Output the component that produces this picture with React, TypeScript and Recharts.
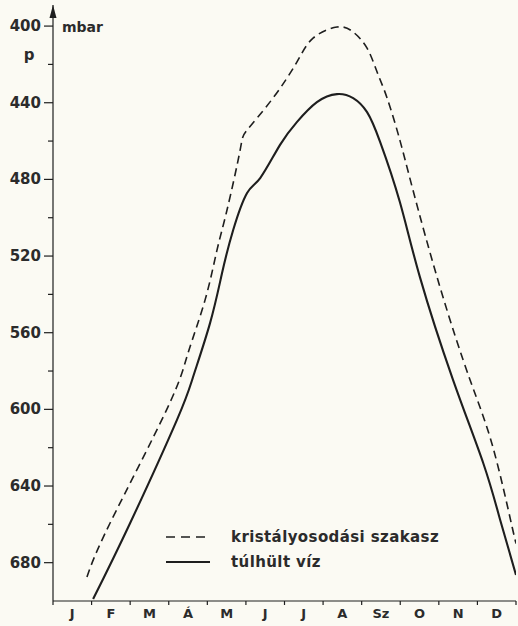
import React from "react";
import { LineChart, Line, XAxis, YAxis, Legend, ReferenceDot } from "recharts";

const MONTHS = ["J", "F", "M", "Á", "M", "J", "J", "A", "Sz", "O", "N", "D"];
const MONTH_EDGES = [0, 1, 2, 3, 4, 5, 6, 7, 8, 9, 10, 11, 12];
const P_TICKS = [400, 420, 440, 460, 480, 500, 520, 540, 560, 580, 600, 620, 640, 660, 680];
const P_LABELS = [400, 440, 480, 520, 560, 600, 640, 680];

// kristályosodási szakasz (month position, mbar)
const CRYSTAL_M = [0.88, 1.48, 2.95, 3.5, 3.94, 4.25, 4.51, 4.85, 5.03, 5.7, 6.32, 6.74, 7.36, 7.78, 8.14, 8.4, 8.66, 8.99, 9.33, 10.03, 10.81, 11.4, 11.9, 12.0];
const CRYSTAL_P = [687.5, 659.3, 600, 570.6, 543, 516.9, 496, 464.7, 454.3, 437.6, 418.8, 406.3, 400.5, 403.1, 411.5, 424, 437.6, 459.5, 485.6, 536.2, 584.7, 619.6, 661.4, 669.5];

// túlhült víz (month position, mbar)
const COLD_M = [1.04, 2.0, 3.21, 3.63, 4.07, 4.38, 4.67, 5.03, 5.37, 5.88, 6.32, 6.84, 7.36, 7.78, 8.14, 8.48, 8.99, 9.51, 10.37, 11.15, 11.59, 12.0];
const COLD_P = [699, 659.3, 605.6, 583.1, 555, 529, 506.4, 487.1, 479.3, 462.1, 450.1, 439.7, 435.5, 437.6, 444.9, 460.5, 491.8, 531, 584.7, 628, 657.7, 686.4];

const crystalData = CRYSTAL_M.map((m, i) => ({ m, p: CRYSTAL_P[i] }));
const coldData = COLD_M.map((m, i) => ({ m, p: COLD_P[i] }));

const SERIES = [
  { name: "kristályosodási szakasz", data: crystalData, dash: "8 5", width: 1.6 },
  { name: "túlhült víz", data: coldData, dash: undefined, width: 2.1 },
];

const W = 518;
const H = 626;
const Y_AXIS_W = 53;
const MARGIN = { top: 5, right: 2, left: 0, bottom: 0 };
const BAND = (W - Y_AXIS_W - MARGIN.right) / 12;

const INK = "#1e1e1e";
const TEXT = "#2b2b2b";
const FONT = "DejaVu Sans, sans-serif";

function PTick({ x, y, payload }: any) {
  const major = P_LABELS.includes(payload.value);
  return (
    <g>
      <line x1={x - (major ? 9 : 5)} x2={x} y1={y} y2={y} stroke={INK} strokeWidth={1.2} />
      {major && (
        <text x={x - 12} y={y} dy={5} textAnchor="end" fontFamily={FONT} fontWeight="bold" fontSize={15} fill={TEXT}>
          {payload.value}
        </text>
      )}
    </g>
  );
}

function MonthTick({ x, y, payload }: any) {
  const i = payload.value;
  return (
    <g>
      <line x1={x} x2={x} y1={y} y2={y + 4} stroke={INK} strokeWidth={1.2} />
      {i < 12 && (
        <text x={x + BAND / 2} y={y + 17} textAnchor="middle" fontFamily={FONT} fontWeight="bold" fontSize={13} fill={TEXT}>
          {MONTHS[i]}
        </text>
      )}
    </g>
  );
}

function AxisTitle({ viewBox }: any) {
  const { x, y, width } = viewBox;
  return (
    <g fontFamily={FONT} fontWeight="bold" fill={TEXT}>
      <text x={x + width + 9} y={y + 27} fontSize={14}>mbar</text>
      <text x={x + 29} y={y + 55} fontSize={15} textAnchor="middle">p</text>
    </g>
  );
}

function Arrow({ cx, cy }: any) {
  return <path d={`M${cx},${cy} L${cx - 3.5},${cy + 13} L${cx + 3.5},${cy + 13} Z`} fill={INK} />;
}

function LegendBox() {
  return (
    <div style={{ fontFamily: FONT, fontWeight: "bold", fontSize: 15, letterSpacing: 0.4, color: TEXT }}>
      {SERIES.map((s) => (
        <div key={s.name} style={{ display: "flex", alignItems: "center", height: 25 }}>
          <svg width={46} height={10} style={{ marginRight: 20 }}>
            <line x1={1} x2={45} y1={5} y2={5} stroke={INK} strokeWidth={s.width} strokeDasharray={s.dash ? "9 6" : undefined} />
          </svg>
          <span>{s.name}</span>
        </div>
      ))}
    </div>
  );
}

export default function App() {
  return (
    <div style={{ position: "absolute", left: 0, top: 0, width: W, height: H, background: "#fbfaf3" }}>
      <LineChart width={W} height={H} margin={MARGIN}>
        <XAxis
          type="number"
          dataKey="m"
          domain={[0, 12]}
          ticks={MONTH_EDGES}
          interval={0}
          allowDataOverflow
          height={25}
          tickSize={0}
          tickMargin={0}
          tickLine={false}
          axisLine={{ stroke: INK, strokeWidth: 1.2 }}
          tick={<MonthTick />}
        />
        <YAxis
          type="number"
          domain={[389, 700]}
          reversed
          ticks={P_TICKS}
          interval={0}
          allowDataOverflow
          width={Y_AXIS_W}
          tickSize={0}
          tickMargin={0}
          tickLine={false}
          axisLine={{ stroke: INK, strokeWidth: 1.2 }}
          tick={<PTick />}
          label={<AxisTitle />}
        />
        <ReferenceDot x={0} y={389} ifOverflow="visible" shape={<Arrow />} />
        {SERIES.map((s) => (
          <Line
            key={s.name}
            data={s.data}
            dataKey="p"
            name={s.name}
            type="natural"
            stroke={INK}
            strokeWidth={s.width}
            strokeDasharray={s.dash}
            dot={false}
            activeDot={false}
            isAnimationActive={false}
          />
        ))}
        <Legend
          layout="vertical"
          align="center"
          verticalAlign="middle"
          content={<LegendBox />}
          wrapperStyle={{ left: 165, top: 524, width: 320 }}
        />
      </LineChart>
    </div>
  );
}
